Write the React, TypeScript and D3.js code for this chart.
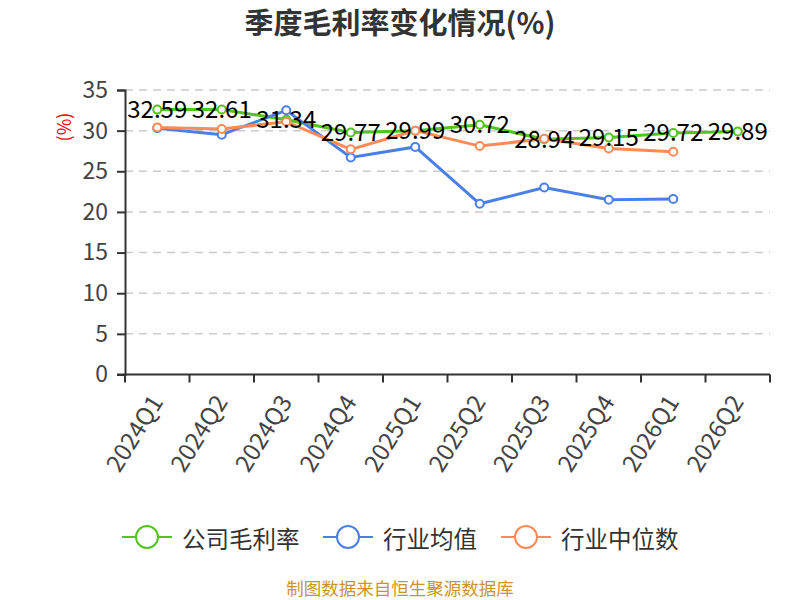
import { useEffect, useRef } from 'react';
import * as d3 from 'd3';

// quarters on the x axis
const quarters = ['2024Q1', '2024Q2', '2024Q3', '2024Q4', '2025Q1', '2025Q2', '2025Q3', '2025Q4', '2026Q1', '2026Q2'];

// series values (%), null = no data
const companyMargin = [32.59, 32.61, 31.34, 29.77, 29.99, 30.72, 28.94, 29.15, 29.72, 29.89];
const industryMean = [30.3, 29.5, 32.5, 26.7, 28.0, 21.0, 23.0, 21.5, 21.6, null];
const industryMedian = [30.4, 30.2, 31.1, 27.7, 30.0, 28.1, 29.0, 27.8, 27.4, null];

const yTicks = [0, 5, 10, 15, 20, 25, 30, 35];

const seriesList = [
  { name: '公司毛利率', values: companyMargin, color: '#52c41a', labels: true },
  { name: '行业均值', values: industryMean, color: '#4a80e6', labels: false },
  { name: '行业中位数', values: industryMedian, color: '#ff8a55', labels: false },
];

const FONT = '"Noto Sans CJK SC", "Noto Sans", sans-serif';

export default function App() {
  const svgRef = useRef<SVGSVGElement>(null);

  useEffect(() => {
    if (!svgRef.current) return;
    const width = 800;
    const height = 600;

    d3.select(svgRef.current).selectAll('*').remove();

    const svg = d3.select(svgRef.current)
      .attr('width', width)
      .attr('height', height)
      .attr('viewBox', `0 0 ${width} ${height}`)
      .style('font-family', FONT);

    svg.append('rect').attr('width', width).attr('height', height).attr('fill', '#fff');

    const left = 125;
    const right = 770;
    const top = 90;
    const bottom = 374.5;

    const x = d3.scaleBand<string>().domain(quarters).range([left, right]).padding(0);
    const y = d3.scaleLinear().domain([0, 35]).range([bottom, top]);
    const cx = (q: string) => (x(q) as number) + x.bandwidth() / 2;

    // Title
    svg.append('text')
      .attr('x', 400)
      .attr('y', 21)
      .attr('text-anchor', 'middle')
      .attr('dominant-baseline', 'central')
      .style('font-size', '29px')
      .style('font-weight', 'bold')
      .style('fill', '#333')
      .text('季度毛利率变化情况(%)');

    // Grid lines
    svg.append('g')
      .selectAll('line')
      .data(yTicks.filter(t => t > 0))
      .enter()
      .append('line')
      .attr('x1', left)
      .attr('x2', right)
      .attr('y1', d => y(d))
      .attr('y2', d => y(d))
      .attr('stroke', '#cccccc')
      .attr('stroke-width', 1.5)
      .attr('stroke-dasharray', '8,6');

    // Y axis
    const yAxis = svg.append('g')
      .attr('transform', `translate(${left},0)`)
      .call(d3.axisLeft(y).tickValues(yTicks).tickSize(8).tickPadding(9).tickFormat(d3.format('d')));
    yAxis.select('.domain').attr('stroke', '#333').attr('stroke-width', 2);
    yAxis.selectAll('.tick line').attr('stroke', '#333').attr('stroke-width', 2);
    yAxis.selectAll('.tick text')
      .style('font-size', '23px')
      .style('font-family', FONT)
      .attr('fill', '#444');

    // Y axis unit
    svg.append('text')
      .attr('transform', 'translate(63,127) rotate(-90)')
      .attr('text-anchor', 'middle')
      .attr('dominant-baseline', 'central')
      .style('font-size', '18px')
      .style('fill', '#ff0000')
      .text('(%)');

    // X axis
    const xAxisG = svg.append('g').attr('transform', `translate(0,${bottom})`);
    xAxisG.append('line')
      .attr('x1', left - 8)
      .attr('x2', right)
      .attr('stroke', '#333')
      .attr('stroke-width', 2);
    const boundaries = quarters.map(q => x(q) as number).concat([right]);
    xAxisG.selectAll('.xtick')
      .data(boundaries)
      .enter()
      .append('line')
      .attr('x1', d => d)
      .attr('x2', d => d)
      .attr('y1', 0)
      .attr('y2', 8)
      .attr('stroke', '#333')
      .attr('stroke-width', 2);
    xAxisG.selectAll('.xlabel')
      .data(quarters)
      .enter()
      .append('text')
      .attr('transform', q => `translate(${cx(q) - 2},${22}) rotate(-58)`)
      .attr('text-anchor', 'end')
      .attr('dominant-baseline', 'central')
      .style('font-size', '24px')
      .style('fill', '#444')
      .text(q => q);

    // Lines and points
    type Pt = { q: string; v: number | null };
    const line = d3.line<Pt>()
      .defined(d => d.v !== null)
      .x(d => cx(d.q))
      .y(d => y(d.v as number));

    seriesList.forEach(s => {
      const pts: Pt[] = quarters.map((q, i) => ({ q, v: s.values[i] }));
      const g = svg.append('g');
      g.append('path')
        .datum(pts)
        .attr('d', line)
        .attr('fill', 'none')
        .attr('stroke', s.color)
        .attr('stroke-width', 3);
      g.selectAll('circle')
        .data(pts.filter(p => p.v !== null))
        .enter()
        .append('circle')
        .attr('cx', d => cx(d.q))
        .attr('cy', d => y(d.v as number))
        .attr('r', 4)
        .attr('fill', '#fff')
        .attr('stroke', s.color)
        .attr('stroke-width', 2);
    });

    // Data labels for the company series
    seriesList.filter(s => s.labels).forEach(s => {
      svg.append('g')
        .selectAll('text')
        .data(quarters.map((q, i) => ({ q, v: s.values[i] })).filter(p => p.v !== null))
        .enter()
        .append('text')
        .attr('x', d => cx(d.q))
        .attr('y', d => y(d.v as number) - 2)
        .attr('text-anchor', 'middle')
        .attr('dominant-baseline', 'central')
        .style('font-size', '24px')
        .style('fill', '#000')
        .text(d => (d.v as number).toFixed(2));
    });

    // Legend
    const legendX = [147, 348, 526];
    const legendY = 537;
    seriesList.forEach((s, i) => {
      const g = svg.append('g').attr('transform', `translate(${legendX[i]},${legendY})`);
      g.append('line')
        .attr('x1', -25)
        .attr('x2', 25)
        .attr('stroke', s.color)
        .attr('stroke-width', 2);
      g.append('circle')
        .attr('r', 11)
        .attr('fill', '#fff')
        .attr('stroke', s.color)
        .attr('stroke-width', 2);
      g.append('text')
        .attr('x', 35)
        .attr('y', 1)
        .attr('dominant-baseline', 'central')
        .style('font-size', '23.5px')
        .style('fill', '#333')
        .text(s.name);
    });

    // Source note
    svg.append('text')
      .attr('x', 400)
      .attr('y', 587)
      .attr('text-anchor', 'middle')
      .attr('dominant-baseline', 'central')
      .style('font-size', '17.5px')
      .style('fill', '#c9952b')
      .text('制图数据来自恒生聚源数据库');
  }, []);

  return (
    <div style={{ position: 'absolute', left: 0, top: 0, width: 800, height: 600 }}>
      <svg ref={svgRef} style={{ display: 'block' }} />
    </div>
  );
}
